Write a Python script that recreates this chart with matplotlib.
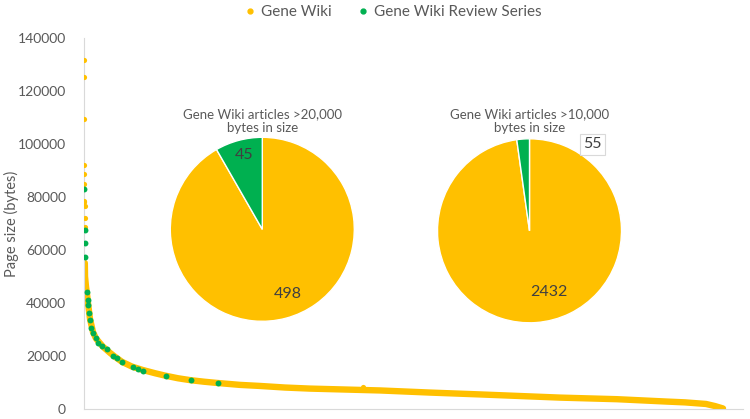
import numpy as np
import matplotlib
matplotlib.use("Agg")
import matplotlib.pyplot as plt
from matplotlib.lines import Line2D

plt.rcParams['font.family'] = ['Lato', 'DejaVu Sans']

YELLOW = '#FFC000'
GREEN = '#00B050'
GREY = '#595959'

# Gene Wiki pages sorted by size: isolated points (rank, bytes)
gw_point_rank = [1, 2, 3, 4, 5, 6, 8, 9, 10, 11, 12, 5440]
gw_point_size = [131700, 125300, 109400, 92100, 88600, 84800, 78600, 78000,
                 76600, 72200, 68800, 8400]

# Gene Wiki pages sorted by size: dense part of the curve (rank, bytes)
gw_rank = [16, 20, 40, 53, 78, 117, 176, 234, 370, 507, 605, 741, 936, 1150,
           1385, 1580, 1833, 2067, 2340, 2613, 3042, 3432, 3920, 4407, 4992,
           5772, 6747, 7722, 8502, 9282, 10394, 11369, 11720, 12129, 12305,
           12460]
gw_size = [55100, 50000, 46000, 44300, 40000, 34000, 29000, 26600, 23500,
           21200, 19700, 17800, 16000, 14700, 13500, 12600, 11600, 10900,
           10300, 9800, 9100, 8700, 8100, 7700, 7400, 7000, 6200, 5500, 4900,
           4300, 3700, 2800, 2500, 1900, 1100, 200]

# Gene Wiki Review Series pages (rank, bytes)
rev_rank = [7, 13, 14, 15, 53, 72, 84, 98, 117, 137, 181, 228, 279, 345, 443,
            571, 638, 735, 961, 1059, 1156, 1593, 2081, 2607]
rev_size = [83100, 67500, 62500, 57500, 44300, 41100, 39200, 36100, 33600,
            30500, 28600, 26700, 25000, 23800, 22500, 20000, 19100, 17800,
            15700, 15000, 14500, 12600, 10900, 9800]

# pie insets: [Gene Wiki, Review Series]
pie20k = [498, 45]
pie10k = [2432, 55]
pie_titles = ['Gene Wiki articles >20,000\nbytes in size',
              'Gene Wiki articles >10,000\nbytes in size']

W, H = 750, 419
fig = plt.figure(figsize=(7.5, 4.19), dpi=100)
ax = fig.add_axes([84 / W, 10 / H, 659 / W, 371 / H])

ax.plot(gw_rank, gw_size, color=YELLOW, lw=4.6, solid_capstyle='round', zorder=2)
ax.scatter(gw_point_rank, gw_point_size, s=14, color=YELLOW, lw=0, zorder=3)
ax.scatter(rev_rank, rev_size, s=18, color=GREEN, lw=0, zorder=4)

ax.set_ylim(0, 140000)
ax.set_xlim(0, 12850)
ax.set_yticks(np.arange(0, 140001, 20000))
ax.set_xticks([])
ax.tick_params(axis='y', length=0, pad=13, labelsize=10, labelcolor=GREY)
for side in ['top', 'right']:
    ax.spines[side].set_visible(False)
for side in ['left', 'bottom']:
    ax.spines[side].set_color('#D9D9D9')
    ax.spines[side].set_linewidth(0.8)
ax.set_ylabel('Page size (bytes)', fontsize=10.5, color=GREY)
ax.yaxis.set_label_coords(-0.099, 0.5)


def inset_pie(cx, cy, r, values, title, labels_pos, boxed):
    pax = fig.add_axes([(cx - r) / W, (H - cy - r) / H, 2 * r / W, 2 * r / H])
    pax.pie(values, colors=[YELLOW, GREEN], startangle=90, counterclock=False,
            wedgeprops=dict(edgecolor='white', linewidth=1))
    pax.set_xlim(-1, 1)
    pax.set_ylim(-1, 1)
    pax.set_aspect('equal')
    for v, (lx, ly), b in zip(values, labels_pos, boxed):
        kw = {}
        if b:
            kw['bbox'] = dict(boxstyle='square,pad=0.2', fc='white',
                              ec='#D9D9D9', lw=0.8)
        pax.text(lx, ly, str(v), ha='center', va='center', fontsize=11.5,
                 color='#404040', **kw)
    fig.text(cx / W, 1 - 121 / H, title, ha='center', va='center',
             fontsize=9.5, color=GREY, linespacing=1.15)


inset_pie(262.3, 229.3, 92, pie20k, pie_titles[0],
          [(0.28, -0.70), (-0.20, 0.81)], [False, False])
inset_pie(529.5, 230.8, 92, pie10k, pie_titles[1],
          [(0.21, -0.665), (0.68, 0.94)], [False, True])

handles = [Line2D([], [], marker='o', ls='', color=YELLOW, markersize=3.5),
           Line2D([], [], marker='o', ls='', color=GREEN, markersize=3.5)]
fig.legend(handles, ['Gene Wiki', 'Gene Wiki Review Series'], loc='center',
           bbox_to_anchor=(392 / W, 1 - 12 / H), ncol=2, frameon=False,
           fontsize=11, labelcolor=GREY, handletextpad=0.2, columnspacing=1.6,
           handlelength=1.0)

fig.savefig('out.png', dpi=100)
